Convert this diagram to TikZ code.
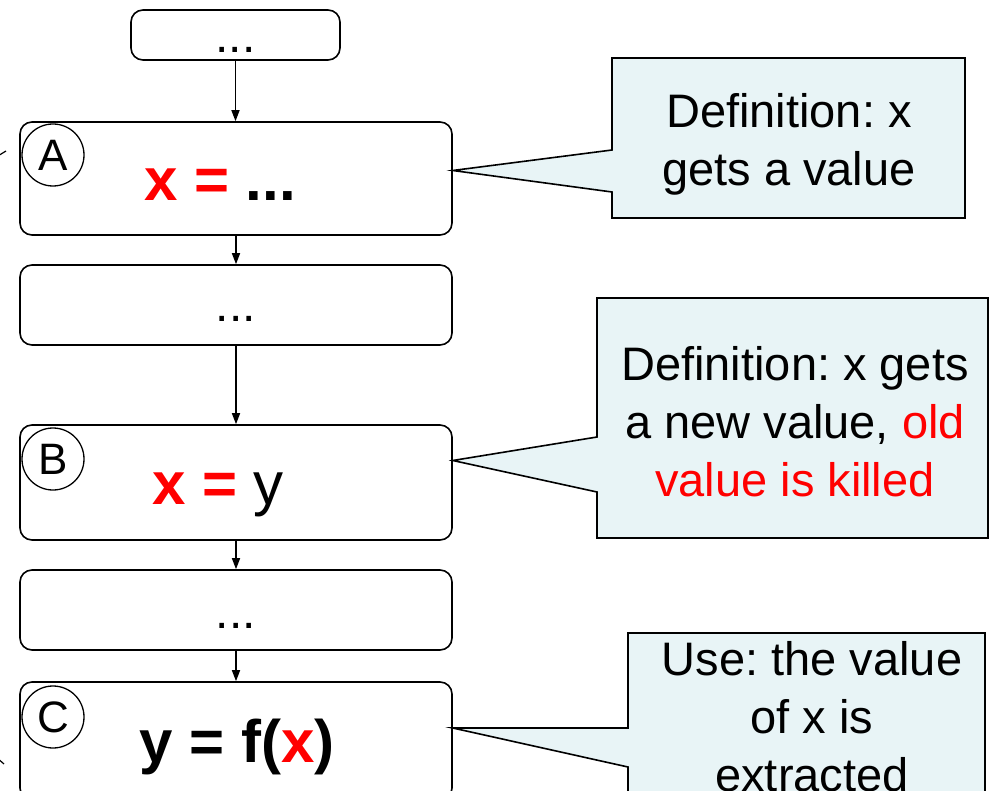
\documentclass[tikz,border=0pt]{standalone}
\usepackage{fontspec}
\setmainfont{Liberation Sans}
\usepackage{xcolor}
\usetikzlibrary{arrows.meta,positioning}
\definecolor{callfill}{RGB}{232,244,246}
\frenchspacing

\begin{document}
\begin{tikzpicture}[x=1pt, y=-1pt, >={Triangle[length=11pt,width=8pt]},
  blk/.style={draw, line width=1.6pt, rounded corners=12pt, inner sep=0pt},
  tag/.style={draw, circle, line width=1.3pt, minimum size=62pt, inner sep=0pt, font=\fontsize{44}{48}\selectfont},
  stmt/.style={anchor=base, inner sep=0pt, font=\bfseries\fontsize{60}{64}\selectfont},
  dots/.style={anchor=base, inner sep=0pt, font=\fontsize{48}{52}\selectfont},
  note/.style={align=center, inner sep=0pt, font=\fontsize{47}{58}\selectfont},
  callout/.style={draw, line width=1.6pt, fill=callfill},
  flow/.style={->, line width=1.5pt}]

\useasboundingbox (0,0) rectangle (990,791);
\clip (0,0) rectangle (990,791);

% statement boxes
\node[blk, minimum width=209, minimum height=50] (top) at (235.5,35) {};
\node[blk, minimum width=432, minimum height=113] (xa) at (236,178.5) {};
\node[blk, minimum width=432, minimum height=80] (d1) at (236,305) {};
\node[blk, minimum width=432, minimum height=115] (xb) at (236,482.5) {};
\node[blk, minimum width=432, minimum height=80] (d2) at (236,610) {};
\node[blk, minimum width=432, minimum height=118] (xc) at (236,741) {};

% texts in the boxes
\node[dots] (ttop) at ([yshift=-18pt]top.center) {...};
\node[stmt] (ta) at ([xshift=-16pt,yshift=-22pt]xa.center) {\textcolor{red}{x =} ...};
\node[dots] (t1) at ([yshift=-17pt]d1.center) {...};
\node[stmt] (tb) at ([xshift=-18pt,yshift=-22pt]xb.center) {\textcolor{red}{x =} \mdseries y};
\node[dots] (t2) at ([yshift=-18pt]d2.center) {...};
\node[stmt] (tc) at ([xshift=1pt,yshift=-21pt]xc.center) {y = f(\textcolor{red}{x})};

% point labels
\node[tag] (la) at (53,155) {A};
\node[tag] (lb) at (53,459) {B};
\node[tag] (lc) at (53,717) {C};

% control flow
\draw[flow] (top.south) -- (top.south |- xa.north);
\draw[flow] (xa) -- (d1);
\draw[flow] (d1) -- (xb);
\draw[flow] (xb) -- (d2);
\draw[flow] (d2) -- (xc);

% stray marks at the left edge
\draw[line width=1.2pt] (-12,162) -- (6,151);
\draw[line width=1.2pt] (-12,750) -- (4,764);

% callouts
\draw[callout] (612,58) -- (965,58) -- (965,218) -- (612,218) -- (612,192)
  -- ([yshift=8pt]xa.east) -- (612,150) -- cycle;
\node[note] (na) at (789,144) {Definition: x\\gets a value};

\draw[callout] (597,298) -- (988,298) -- (988,538) -- (597,538) -- (597,492)
  -- ([yshift=22pt]xb.east) -- (597,437) -- cycle;
\node[note] (nb) at (795,422) {Definition: x gets\\a new value, \textcolor{red}{old}\\\textcolor{red}{value is killed}};

\draw[callout] (628,633) -- (985,633) -- (985,810) -- (628,810) -- (628,767)
  -- ([yshift=13pt]xc.east) -- (628,728) -- cycle;
\node[note] (nc) at (812,717) {Use: the value\\of x is\\extracted};

\end{tikzpicture}
\end{document}
